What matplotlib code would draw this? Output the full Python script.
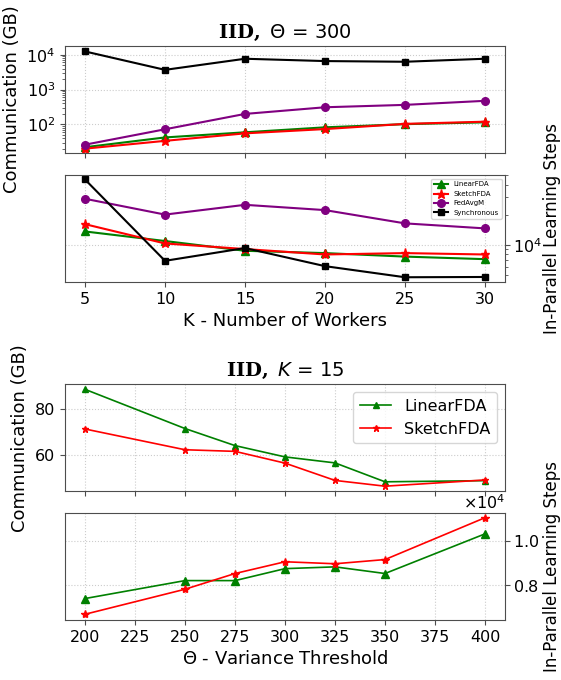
import matplotlib
matplotlib.use("Agg")
import matplotlib.pyplot as plt

plt.rcParams['mathtext.fontset'] = 'custom'
plt.rcParams['mathtext.rm'] = 'DejaVu Sans'
plt.rcParams['mathtext.it'] = 'DejaVu Sans:italic'
plt.rcParams['mathtext.bf'] = 'DejaVu Serif:bold'

# top: K sweep, Theta = 300
workers = [5, 10, 15, 20, 25, 30]
comm_linear = [22, 42, 59, 82, 101, 114]
comm_sketch = [20, 33.5, 55, 73, 103, 119]
comm_fedavgm = [26, 72, 199, 309, 362, 473]
comm_sync = [12400, 3670, 7650, 6560, 6270, 7650]
steps_linear = [13600, 10900, 8690, 8240, 7600, 7160]
steps_sketch = [16100, 10300, 9050, 7980, 8240, 7980]
steps_fedavgm = [29000, 20100, 25200, 22300, 16400, 14600]
steps_sync = [45300, 6890, 9260, 6090, 4710, 4740]

# bottom: Theta sweep, K = 15
thetas = [200, 250, 275, 300, 325, 350, 400]
comm2_linear = [88.6, 71.6, 64.2, 59.3, 56.7, 48.5, 49.0]
comm2_sketch = [71.4, 62.4, 61.7, 56.6, 49.1, 46.6, 49.3]
steps2_linear = [7400, 8210, 8210, 8750, 8830, 8530, 10320]
steps2_sketch = [6690, 7820, 8530, 9060, 8970, 9160, 11050]

spine_c = '0.3'

fig = plt.figure(figsize=(5.61, 6.80), dpi=100)
ax1 = fig.add_axes([0.1159, 0.775, 0.7843, 0.157])
ax2 = fig.add_axes([0.1159, 0.5853, 0.7843, 0.157])
ax3 = fig.add_axes([0.1159, 0.2779, 0.7843, 0.157])
ax4 = fig.add_axes([0.1159, 0.0882, 0.7843, 0.157])

for ax in [ax1, ax2, ax3, ax4]:
    for s in ax.spines.values():
        s.set_color(spine_c)
    ax.tick_params(which='both', colors=spine_c, labelcolor='black', labelsize=11.5)
    ax.grid(True, linestyle=':', color='0.8', linewidth=0.8)

# panel 1
ax1.plot(workers, comm_linear, color='green', marker='^', markersize=5.5, linewidth=1.5)
ax1.plot(workers, comm_sketch, color='red', marker='*', markersize=6.5, linewidth=1.5)
ax1.plot(workers, comm_fedavgm, color='purple', marker='o', markersize=5.5, linewidth=1.5)
ax1.plot(workers, comm_sync, color='black', marker='s', markersize=5, linewidth=1.5)
ax1.set_yscale('log')
ax1.set_ylim(15, 17500)
ax1.set_xlim(3.75, 31.25)
ax1.set_xticks(workers)
ax1.tick_params(axis='x', labelbottom=False)
ax1.set_ylabel('Communication (GB)', fontsize=13)
ax1.set_title(r'$\mathbf{IID,}$ Θ = 300', fontsize=14)

# panel 2
ax2.plot(workers, steps_linear, color='green', marker='^', markersize=5.5, linewidth=1.5, label='LinearFDA')
ax2.plot(workers, steps_sketch, color='red', marker='*', markersize=6.5, linewidth=1.5, label='SketchFDA')
ax2.plot(workers, steps_fedavgm, color='purple', marker='o', markersize=5.5, linewidth=1.5, label='FedAvgM')
ax2.plot(workers, steps_sync, color='black', marker='s', markersize=5, linewidth=1.5, label='Synchronous')
ax2.set_yscale('log')
ax2.set_ylim(4220, 50000)
ax2.set_xlim(3.75, 31.25)
ax2.set_xticks(workers)
ax2.yaxis.tick_right()
ax2.tick_params(axis='y', pad=2.5)
ax2.yaxis.set_label_position('right')
ax2.set_ylabel('In-Parallel Learning Steps', fontsize=12)
ax2.yaxis.set_label_coords(1.086, 0.5)
ax2.set_xlabel('K - Number of Workers', fontsize=13)
ax2.legend(loc='upper right', fontsize=5)

# panel 3
ax3.plot(thetas, comm2_linear, color='green', marker='^', markersize=4.5, linewidth=1.2, label='LinearFDA')
ax3.plot(thetas, comm2_sketch, color='red', marker='*', markersize=5, linewidth=1.2, label='SketchFDA')
ax3.set_ylim(44.5, 90.8)
ax3.set_xlim(190, 410)
ax3.set_xticks(range(200, 401, 25))
ax3.set_yticks([60, 80])
ax3.tick_params(axis='x', labelbottom=False)
ax3.set_ylabel('Communication (GB)', fontsize=13)
ax3.set_title(r'$\mathbf{IID,}$ $K$ = 15', fontsize=14)
ax3.legend(loc='upper right', fontsize=11.5)

# panel 4
ax4.plot(thetas, steps2_linear, color='green', marker='^', markersize=5.5, linewidth=1.2)
ax4.plot(thetas, steps2_sketch, color='red', marker='*', markersize=6, linewidth=1.2)
ax4.set_ylim(6430, 11250)
ax4.set_xlim(190, 410)
ax4.set_xticks(range(200, 401, 25))
ax4.set_yticks([8000, 10000])
ax4.ticklabel_format(axis='y', style='sci', scilimits=(4, 4), useMathText=True)
ax4.yaxis.tick_right()
ax4.tick_params(axis='y', pad=2.5)
ax4.yaxis.set_label_position('right')
ax4.yaxis.get_offset_text().set_fontsize(11.5)
ax4.set_ylabel('In-Parallel Learning Steps', fontsize=12)
ax4.yaxis.set_label_coords(1.086, 0.5)
ax4.set_xlabel(r'$\Theta$ - Variance Threshold', fontsize=13)

fig.savefig('out.png', dpi=100)
